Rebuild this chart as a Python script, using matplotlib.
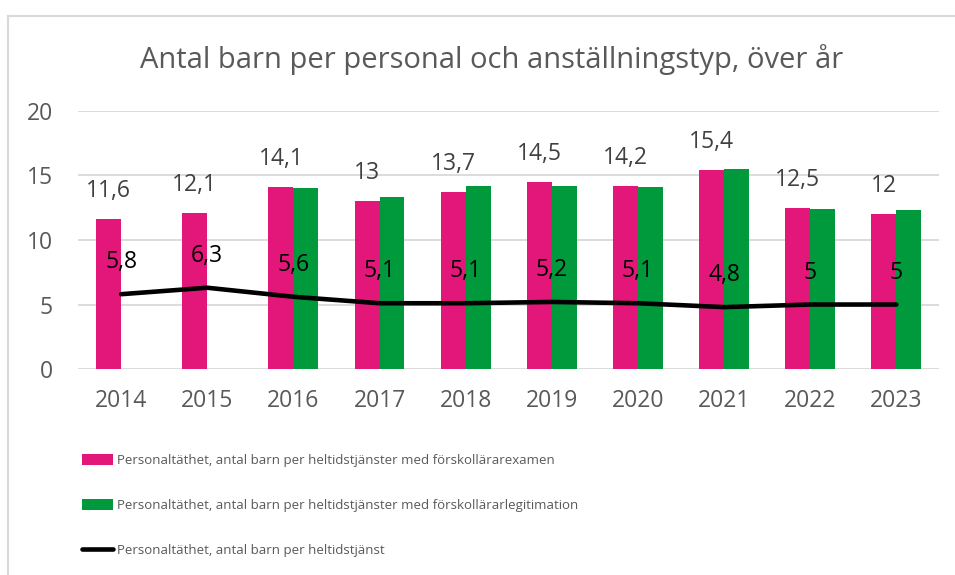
import numpy as np
import matplotlib
matplotlib.use('Agg')
import matplotlib.pyplot as plt
from matplotlib.lines import Line2D

# Data
years = ['2014', '2015', '2016', '2017', '2018', '2019', '2020', '2021', '2022', '2023']
examen = [11.6, 12.1, 14.1, 13.0, 13.7, 14.5, 14.2, 15.4, 12.5, 12.0]
legitimation = [np.nan, np.nan, 14.0, 13.3, 14.2, 14.2, 14.1, 15.5, 12.4, 12.3]
per_tjanst = [5.8, 6.3, 5.6, 5.1, 5.1, 5.2, 5.1, 4.8, 5.0, 5.0]

lbl_examen = 'Personaltäthet, antal barn per heltidstjänster med förskollärarexamen'
lbl_legit = 'Personaltäthet, antal barn per heltidstjänster med förskollärarlegitimation'
lbl_tjanst = 'Personaltäthet, antal barn per heltidstjänst'

PINK = '#E3177A'
GREEN = '#009A3D'
GRAY = '#595959'
GRID = '#D9D9D9'

plt.rcParams['font.family'] = ['Open Sans', 'DejaVu Sans']


def fmt(v):
    if float(v).is_integer():
        return str(int(v))
    return ('%.1f' % v).replace('.', ',')


fig = plt.figure(figsize=(9.55, 5.75), dpi=100)
ax = fig.add_axes([0.0817, 0.358, 0.902, 0.4495])

x = np.arange(len(years))
w = 0.29
b1 = ax.bar(x - w / 2, examen, width=w, color=PINK, label=lbl_examen, zorder=2)
b2 = ax.bar(x + w / 2, legitimation, width=w, color=GREEN, label=lbl_legit, zorder=2)
l1, = ax.plot(x, per_tjanst, color='black', lw=3.3, solid_capstyle='round',
              solid_joinstyle='round', label=lbl_tjanst, zorder=3)

for xi, v in zip(x, examen):
    ax.annotate(fmt(v), (xi - w / 2, v), xytext=(0, 20), textcoords='offset points',
                ha='center', va='center', fontsize=16.5, color='#404040')
for xi, v in zip(x, per_tjanst):
    ax.annotate(fmt(v), (xi, v), xytext=(0, 23), textcoords='offset points',
                ha='center', va='center', fontsize=16.5, color='black', zorder=4)

ax.set_xlim(-0.5, len(years) - 0.5)
ax.set_ylim(0, 20)
ax.set_yticks([0, 5, 10, 15, 20])
ax.set_xticks(x)
ax.set_xticklabels(years)
ax.yaxis.grid(True, color=GRID, lw=1.3, zorder=0)
ax.set_axisbelow(True)
for s in ax.spines.values():
    s.set_visible(False)
ax.tick_params(axis='both', length=0, labelsize=16.5, labelcolor=GRAY)
ax.tick_params(axis='y', pad=18)
ax.tick_params(axis='x', pad=14)

fig.text(0.515, 0.896, 'Antal barn per personal och anställningstyp, över år',
         ha='center', va='center', fontsize=21, color=GRAY)

leg = fig.legend([b1, b2, l1], [lbl_examen, lbl_legit, lbl_tjanst],
                 loc='upper left', bbox_to_anchor=(0.086, 0.211), frameon=False,
                 prop={'size': 9.5},
                 handlelength=2.35, handleheight=0.95, handletextpad=0.3,
                 labelspacing=2.43, borderaxespad=0, borderpad=0)
for t in leg.get_texts():
    t.set_color(GRAY)

# chart frame (top and left edge visible)
fig.add_artist(Line2D([8 / 955, 1], [1 - 16 / 575, 1 - 16 / 575], color=GRID, lw=1.5,
                      transform=fig.transFigure))
fig.add_artist(Line2D([8 / 955, 8 / 955], [1 - 16 / 575, 0], color=GRID, lw=1.5,
                      transform=fig.transFigure))

fig.savefig('out.png', dpi=100)
